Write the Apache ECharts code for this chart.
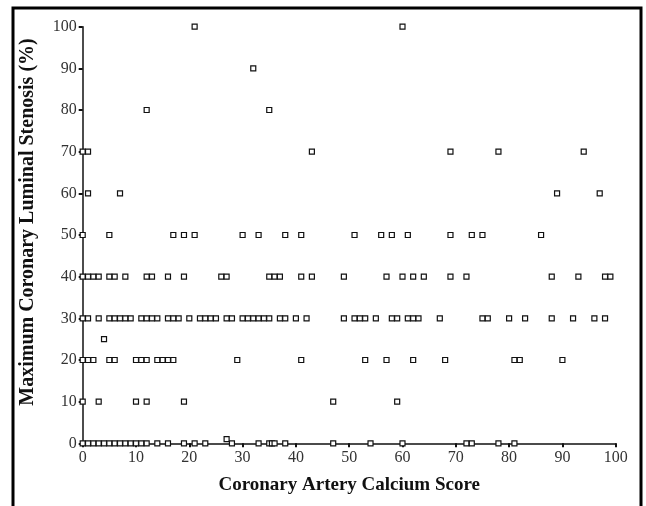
<!DOCTYPE html>
<html>
<head>
<meta charset="utf-8">
<script src="https://cdn.jsdelivr.net/npm/echarts@6/dist/echarts.min.js"></script>
<style>html,body{margin:0;padding:0;background:#fff}#c{width:646px;height:506px}</style>
</head>
<body>
<div id="c"></div>
<script>
// Calcium score values for each stenosis level (%)
const xs100 = [21, 60];
const xs90 = [32];
const xs80 = [12, 35];
const xs70 = [0, 1, 43, 69, 78, 94];
const xs60 = [1, 7, 89, 97];
const xs50 = [0, 5, 17, 19, 21, 30, 33, 38, 41, 51, 56, 58, 61, 69, 73, 75, 86];
const xs40 = [0, 1, 2, 3, 5, 6, 8, 12, 13, 16, 19, 26, 27, 35, 36, 37, 41, 43, 49, 57, 60, 62, 64, 69, 72, 88, 93, 98, 99];
const xs30 = [0, 1, 3, 5, 6, 7, 8, 9, 11, 12, 13, 14, 16, 17, 18, 20, 22, 23, 24, 25, 27, 28, 30, 31, 32, 33, 34, 35, 37, 38, 40, 42, 49, 51, 52, 53, 55, 58, 59, 61, 62, 63, 67, 75, 76, 80, 83, 88, 92, 96, 98];
const xs25 = [4];
const xs20 = [0, 1, 2, 5, 6, 10, 11, 12, 14, 15, 16, 17, 29, 41, 53, 57, 62, 68, 81, 82, 90];
const xs10 = [0, 3, 10, 12, 19, 47, 59];
const xs1 = [27];
const xs0 = [0, 1, 2, 3, 4, 5, 6, 7, 8, 9, 10, 11, 12, 14, 16, 19, 21, 23, 28, 33, 35, 35.5, 36, 38, 47, 54, 60, 72, 73, 78, 81];

const levels = [
  [100, xs100], [90, xs90], [80, xs80], [70, xs70], [60, xs60], [50, xs50],
  [40, xs40], [30, xs30], [25, xs25], [20, xs20], [10, xs10], [1, xs1], [0, xs0]
];
const points = [];
levels.forEach(([y, arr]) => arr.forEach(x => points.push([x, y])));

const xAxisName = 'Coronary Artery Calcium Score';
const yAxisName = 'Maximum Coronary Luminal Stenosis (%)';
const serif = '"Liberation Serif", "DejaVu Serif", serif';

const chart = echarts.init(document.getElementById('c'), null, {renderer: 'canvas'});
chart.setOption({
  animation: false,
  backgroundColor: '#fff',
  grid: {left: 82.7, right: 30.3, top: 26.7, bottom: 62.7, containLabel: false},
  xAxis: {
    type: 'value', min: 0, max: 100, interval: 10,
    name: xAxisName, nameLocation: 'middle', nameGap: 32,
    nameTextStyle: {fontFamily: serif, fontWeight: 'bold', fontSize: 19, color: '#111', padding: [0, 0, 0, 0]},
    axisLine: {show: true, onZero: false, lineStyle: {color: '#111', width: 1.5}},
    axisTick: {show: true, inside: false, length: 4, lineStyle: {color: '#111', width: 2}},
    axisLabel: {fontFamily: serif, fontSize: 16, color: '#333', margin: 6},
    splitLine: {show: false}
  },
  yAxis: {
    type: 'value', min: 0, max: 100, interval: 10,
    name: yAxisName, nameLocation: 'middle', nameGap: 45,
    nameTextStyle: {fontFamily: serif, fontWeight: 'bold', fontSize: 20, color: '#111', padding: [0, 0, 0, 26]},
    axisLine: {show: true, onZero: false, lineStyle: {color: '#111', width: 1.5}},
    axisTick: {show: true, inside: false, length: 4, lineStyle: {color: '#111', width: 2}},
    axisLabel: {fontFamily: serif, fontSize: 16, color: '#333', margin: 6},
    splitLine: {show: false}
  },
  series: [{
    type: 'scatter',
    data: points,
    symbol: 'rect',
    symbolSize: 5,
    itemStyle: {color: '#fff', borderColor: '#111', borderWidth: 1.2, opacity: 1},
    emphasis: {disabled: true}
  }],
  graphic: [{
    type: 'rect',
    shape: {x: 13, y: 8, width: 628, height: 520},
    style: {fill: 'none', stroke: '#000', lineWidth: 3},
    silent: true, z: 100
  }]
});
</script>
</body>
</html>
